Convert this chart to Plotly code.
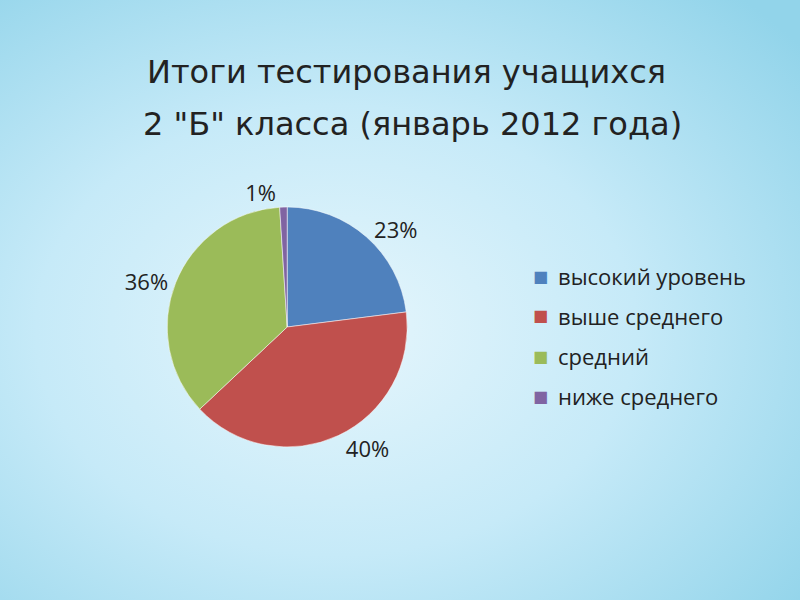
import base64
import plotly.graph_objects as go

# data
categories = ["высокий уровень", "выше среднего", "средний", "ниже среднего"]
shares = [23, 40, 36, 1]
colors = ["#4F81BD", "#C0504D", "#9BBB59", "#8064A2"]

title_lines = ["Итоги тестирования учащихся", "2 \"Б\" класса (январь 2012 года)"]

# soft radial backdrop like the slide
svg = """<svg xmlns='http://www.w3.org/2000/svg' width='800' height='600'>
<defs><radialGradient id='g' cx='0.42' cy='0.55' r='0.75'>
<stop offset='0' stop-color='#e6f6fc'/>
<stop offset='0.5' stop-color='#c6eaf8'/>
<stop offset='1' stop-color='#92d4ea'/>
</radialGradient></defs>
<rect width='800' height='600' fill='url(#g)'/></svg>"""
bg = "data:image/svg+xml;base64," + base64.b64encode(svg.encode()).decode()

fig = go.Figure(go.Pie(
    labels=categories,
    values=shares,
    sort=False,
    direction="clockwise",
    rotation=0,
    marker=dict(colors=colors, line=dict(color="rgba(255,255,255,0.5)", width=1)),
    textposition="outside",
    texttemplate="%{value}%",
    textfont=dict(size=22, color="#222", family="Open Sans"),
    domain=dict(x=[0.209, 0.509], y=[0.255, 0.655]),
    hoverinfo="label+percent",
    showlegend=False,
))

annotations = [
    dict(text=title_lines[0], x=0.508, y=1 - 72 / 600, xref="paper", yref="paper",
         showarrow=False, yanchor="middle",
         font=dict(size=32, color="#222", family="DejaVu Sans")),
    dict(text=title_lines[1], x=0.515, y=1 - 124 / 600, xref="paper", yref="paper",
         showarrow=False, yanchor="middle",
         font=dict(size=32, color="#222", family="DejaVu Sans")),
]

# legend drawn as text rows to get the slide's wide spacing
for i, (name, col) in enumerate(zip(categories, colors)):
    yy = 1 - (276 + 40 * i) / 600
    annotations.append(dict(text="■", x=540 / 800, y=yy, xref="paper", yref="paper",
                            showarrow=False, xanchor="center", yanchor="middle",
                            font=dict(size=16, color=col, family="DejaVu Sans")))
    annotations.append(dict(text=name, x=556 / 800, y=yy, xref="paper", yref="paper",
                            showarrow=False, xanchor="left", yanchor="middle",
                            font=dict(size=22, color="#222", family="Open Sans")))

fig.update_layout(
    width=800, height=600,
    margin=dict(l=0, r=0, t=0, b=0),
    paper_bgcolor="#c2e9f8",
    images=[dict(source=bg, xref="paper", yref="paper", x=0, y=1,
                 sizex=1, sizey=1, sizing="stretch", layer="below")],
    annotations=annotations,
)

fig.write_html("out.html", config={"displayModeBar": False},
               post_script="document.body.style.margin='0';")
